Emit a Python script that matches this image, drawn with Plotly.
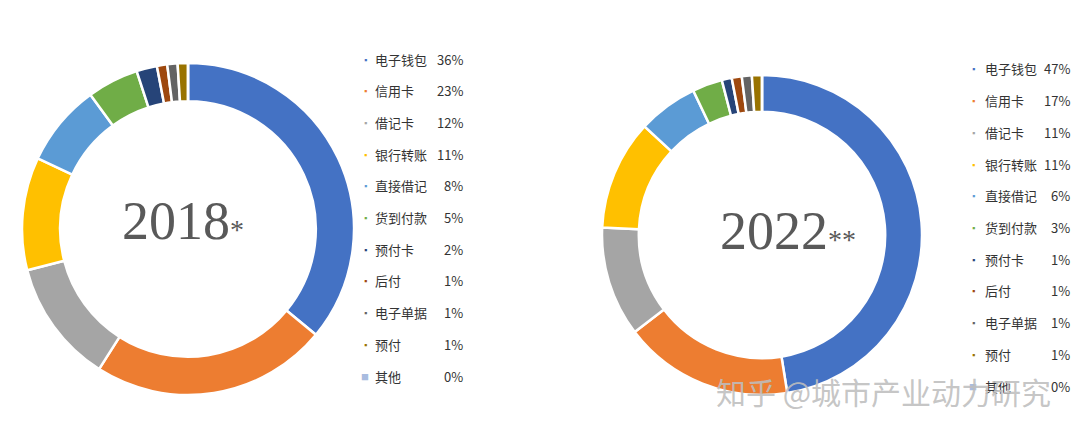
import plotly.graph_objects as go

labels = ["电子钱包", "信用卡", "借记卡", "银行转账", "直接借记", "货到付款", "预付卡", "后付", "电子单据", "预付", "其他"]
values_2018 = [36, 23, 12, 11, 8, 5, 2, 1, 1, 1, 0]
values_2022 = [47, 17, 11, 11, 6, 3, 1, 1, 1, 1, 0]
colors = ["#4472C4", "#ED7D31", "#A5A5A5", "#FFC000", "#5B9BD5", "#70AD47",
          "#264478", "#9E480E", "#636363", "#997300", "#A9BCE0"]

W, H = 1080, 438
fig = go.Figure()

def pie(vals, x0, x1, ytop, ybot):
    fig.add_trace(go.Pie(
        labels=labels, values=vals, hole=0.77, sort=False, direction="clockwise",
        rotation=0, marker=dict(colors=colors, line=dict(color="white", width=2.5)),
        textinfo="none", hoverinfo="label+percent", showlegend=False,
        domain=dict(x=[x0 / W, x1 / W], y=[1 - ybot / H, 1 - ytop / H])))

pie(values_2018, 14, 346, 55, 387)
pie(values_2022, 594, 914, 62, 392)

ann = []
def center(txt, x, y):
    ann.append(dict(x=x / W, y=1 - y / H, xref="paper", yref="paper", text=txt, showarrow=False,
                    xanchor="center", yanchor="middle",
                    font=dict(family="Liberation Serif", size=54, color="#595959")))
center("2018<span style='font-size:28px'>*</span>", 175, 213)
center("2022<span style='font-size:28px'>**</span>", 780, 223)

def legend(vals, mx, tx, px, y0, dy):
    for i, (lab, v) in enumerate(zip(labels, vals)):
        y = 1 - (y0 + i * dy) / H
        last = i == len(labels) - 1
        ann.append(dict(x=mx / W, y=y, xref="paper", yref="paper", text="■" if last else "▪",
                        xanchor="center", yanchor="middle",
                        showarrow=False, font=dict(size=13 if last else 9, color=colors[i])))
        ann.append(dict(x=tx / W, y=y, xref="paper", yref="paper", text=lab, xanchor="left", yanchor="middle",
                        showarrow=False, font=dict(family="Noto Sans CJK SC", size=13, color="#333")))
        ann.append(dict(x=px / W, y=y, xref="paper", yref="paper", text=f"{v}%", xanchor="right", yanchor="middle",
                        showarrow=False, font=dict(family="Noto Sans CJK SC", size=13, color="#333")))

legend(values_2018, 357, 365, 457, 51, 31.7)
legend(values_2022, 965, 975, 1064, 61, 31.7)

ann.append(dict(x=875 / W, y=1 - 383 / H, xref="paper", yref="paper", text="知乎 @城市产业动力研究",
                xanchor="center", yanchor="middle",
                showarrow=False, font=dict(family="Noto Sans CJK SC", size=30, color="rgba(190,190,190,0.9)")))

fig.update_layout(width=W, height=H, margin=dict(l=0, r=0, t=0, b=0),
                  paper_bgcolor="white", plot_bgcolor="white", annotations=ann)
fig.write_html("out.html")
